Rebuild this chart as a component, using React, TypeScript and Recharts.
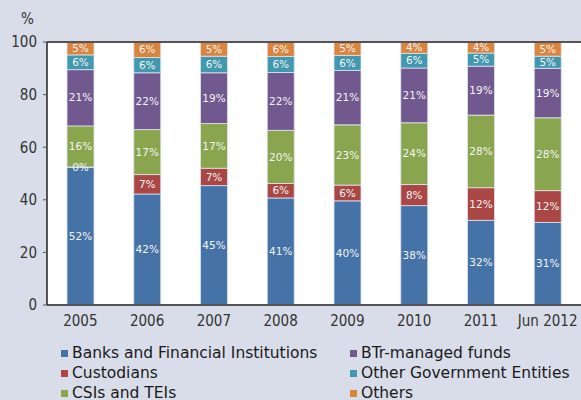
import { Bar, BarChart, CartesianGrid, LabelList, Legend, ReferenceLine, XAxis, YAxis } from 'recharts';

const years = ['2005', '2006', '2007', '2008', '2009', '2010', '2011', 'Jun 2012'];

const banks = [52.3, 42.2, 45.4, 40.7, 39.6, 37.8, 32.2, 31.4];
const custodians = [0.2, 7.4, 6.6, 5.5, 6.0, 8.0, 12.4, 12.1];
const csis = [15.6, 17.1, 17.0, 20.2, 22.9, 23.5, 27.6, 27.7];
const btr = [21.4, 21.6, 19.3, 22.0, 20.7, 20.8, 18.6, 18.8];
const otherGov = [5.6, 5.8, 6.3, 6.1, 5.7, 5.6, 5.0, 4.6];
const others = [4.9, 5.9, 5.4, 5.5, 5.1, 4.3, 4.2, 5.4];

const yTicks = [0, 20, 40, 60, 80, 100];

const series = [
  { key: 'banks', name: 'Banks and Financial Institutions', color: '#4572a7', values: banks },
  { key: 'custodians', name: 'Custodians', color: '#aa4643', values: custodians },
  { key: 'csis', name: 'CSIs and TEIs', color: '#89a54e', values: csis },
  { key: 'btr', name: 'BTr-managed funds', color: '#71588f', values: btr },
  { key: 'otherGov', name: 'Other Government Entities', color: '#4198af', values: otherGov },
  { key: 'others', name: 'Others', color: '#db843d', values: others },
];

const data = years.map((year, i) => {
  const row: Record<string, string | number> = { year };
  series.forEach((s) => {
    row[s.key] = s.values[i];
  });
  return row;
});

const FONT = "'DejaVu Sans Condensed', 'DejaVu Sans', sans-serif";

function pct(value: unknown) {
  return `${Math.round(Number(value))}%`;
}

function LegendGrid() {
  return (
    <div
      style={{
        display: 'grid',
        gridAutoFlow: 'column',
        gridTemplateRows: 'repeat(3, 20px)',
        gridTemplateColumns: '289px 230px',
        fontFamily: "'DejaVu Sans', sans-serif",
        fontStretch: 'normal',
        fontSize: 15.5,
        color: '#1a1a1a',
      }}
    >
      {series.map((s) => (
        <div key={s.key} style={{ display: 'flex', alignItems: 'center', whiteSpace: 'nowrap' }}>
          <span style={{ width: 7, height: 7, background: s.color, marginRight: 4, display: 'inline-block' }} />
          <span>{s.name}</span>
        </div>
      ))}
    </div>
  );
}

export default function App() {
  return (
    <div
      style={{
        position: 'absolute',
        left: 0,
        top: 0,
        width: 581,
        height: 400,
        overflow: 'hidden',
        background: '#d8dde9',
        fontFamily: FONT,
        fontStretch: 'condensed',
      }}
    >
      <BarChart width={581} height={400} data={data} margin={{ top: 42, right: 0, left: 0, bottom: 55 }} barSize={27}>
        <CartesianGrid horizontal={false} vertical={false} fill="#ffffff" />
        <XAxis
          dataKey="year"
          height={40}
          tickSize={0}
          tickMargin={10}
          axisLine={{ stroke: '#555555', strokeWidth: 2 }}
          tick={{ fontSize: 15, fill: '#333333' }}
        />
        <YAxis
          width={47}
          domain={[0, 100]}
          ticks={yTicks}
          tickSize={4}
          tickMargin={6}
          axisLine={{ stroke: '#222222', strokeWidth: 1.5 }}
          tickLine={{ stroke: '#555555' }}
          tick={{ fontSize: 15, fill: '#333333' }}
          label={{ value: '%', position: 'top', offset: 18, dx: 4, fontSize: 15, fill: '#333333' }}
        />
        <ReferenceLine y={100} stroke="#555555" strokeWidth={2} />
        {series.map((s) => (
          <Bar
            key={s.key}
            dataKey={s.key}
            name={s.name}
            stackId="a"
            fill={s.color}
            stroke="#dfe5ef"
            strokeWidth={0.8}
            isAnimationActive={false}
          >
            <LabelList
              dataKey={s.key}
              position="center"
              formatter={pct}
              fill="#f4f4f4"
              fontSize={10.5}
              style={{ fontFamily: "'DejaVu Sans', sans-serif", fontStretch: 'normal' }}
            />
          </Bar>
        ))}
        <Legend
          layout="horizontal"
          verticalAlign="middle"
          align="center"
          content={() => <LegendGrid />}
          wrapperStyle={{ top: 343, left: 61, width: 520 }}
        />
      </BarChart>
    </div>
  );
}
